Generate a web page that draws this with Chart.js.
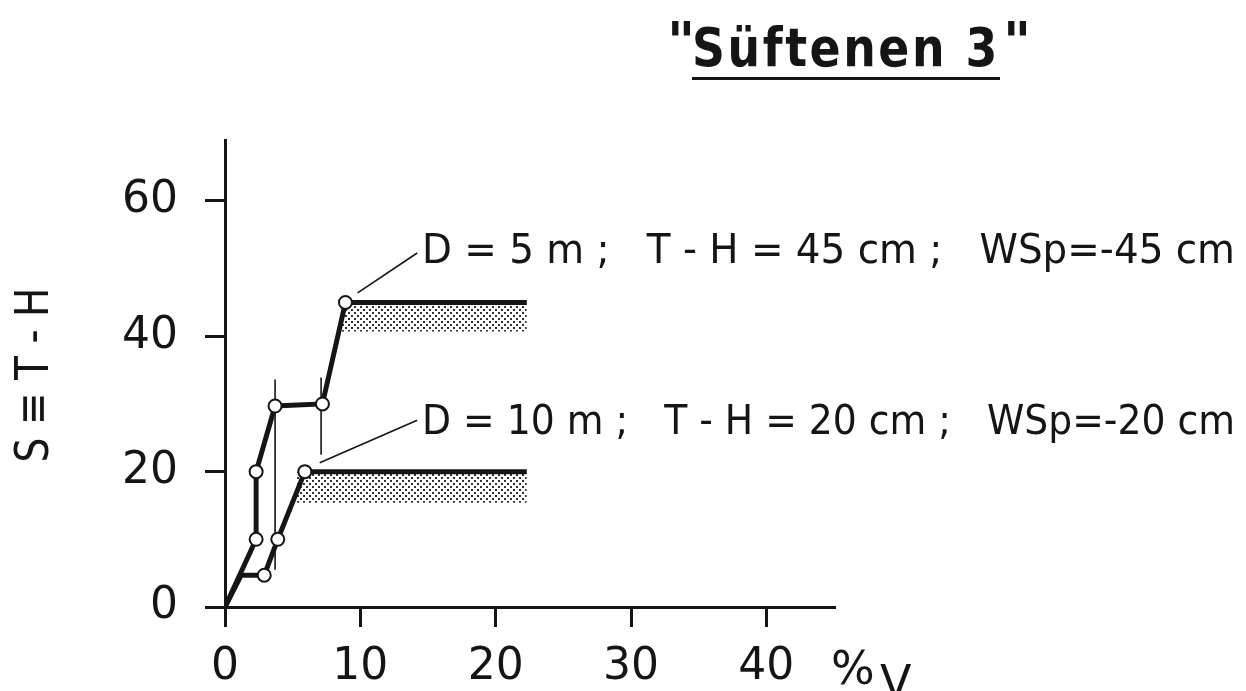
<!DOCTYPE html>
<html>
<head>
<meta charset="utf-8">
<title>Süftenen 3</title>
<script src="https://cdn.jsdelivr.net/npm/chart.js@4.4.0/dist/chart.umd.min.js"></script>
<style>
  body { margin: 0; background: #fff; }
  #wrap { width: 1246px; height: 691px; }
</style>
</head>
<body>
<div id="wrap"><canvas id="chart" width="1246" height="691"></canvas></div>
<script>
// axis ticks
const xTicks = [0, 10, 20, 30, 40];
const yTicks = [0, 20, 40, 60];

// D = 5 m curve
const s1X = [0, 2.3, 2.3, 3.7, 7.2, 8.9, 22.3];
const s1Y = [0, 10, 20, 29.7, 30, 45, 45];
const s1Marks = [0, 1, 1, 1, 1, 1, 0];

// D = 10 m curve
const s2X = [0, 1.2, 2.9, 3.9, 5.9, 22.3];
const s2Y = [0, 4.7, 4.7, 10, 20, 20];
const s2Marks = [0, 0, 1, 1, 1, 0];

// stippled bands under the plateaus
const band1X = [8.6, 22.3];
const band1Y = [40.7, 40.7];
const band1Top = 45;
const band2X = [5.3, 22.3];
const band2Y = [15.4, 15.4];
const band2Top = 20;

// thin vertical range lines
const bar1X = [3.7, 3.7];
const bar1Y = [5.5, 33.6];
const bar2X = [7.1, 7.1];
const bar2Y = [22.5, 33.9];

// leader lines to the labels
const lead1X = [9.8, 14.2];
const lead1Y = [46.4, 52.3];
const lead2X = [7.0, 14.2];
const lead2Y = [21.3, 27.6];

const INK = '#151515';
const FONT = '"DejaVu Sans", "Liberation Sans", sans-serif';

function pts(xs, ys) {
    return xs.map((x, i) => ({ x: x, y: ys[i] }));
}

function stipple() {
    const c = document.createElement('canvas');
    c.width = 6; c.height = 6;
    const g = c.getContext('2d');
    g.fillStyle = '#fff';
    g.fillRect(0, 0, 6, 6);
    g.fillStyle = '#333';
    g.fillRect(0, 0, 2, 2);
    g.fillRect(3, 3, 2, 2);
    return g.createPattern(c, 'repeat');
}

// squeeze or stretch a string so it covers the given width
function fitText(ctx, text, x, y, width, align) {
    const w = ctx.measureText(text).width;
    const k = width / w;
    ctx.save();
    ctx.translate(x, y);
    ctx.scale(k, 1);
    ctx.textAlign = align || 'left';
    ctx.fillText(text, 0, 0);
    ctx.restore();
}

const textPlugin = {
    id: 'texts',
    afterDraw(chart) {
        const ctx = chart.ctx;
        ctx.save();
        ctx.fillStyle = INK;
        ctx.textBaseline = 'alphabetic';

        // title
        ctx.font = '600 54px ' + FONT;
        ctx.letterSpacing = '3px';
        fitText(ctx, 'Süftenen 3', 846, 66, 308, 'center');
        ctx.letterSpacing = '0px';
        ctx.fillText('"', 667, 60);
        ctx.fillText('"', 1003, 60);
        ctx.fillRect(692, 77, 308, 3);

        // curve labels
        ctx.font = '40px ' + FONT;
        fitText(ctx, 'D = 5 m ;   T - H = 45 cm ;   WSp=-45 cm', 422, 263, 813);
        fitText(ctx, 'D = 10 m ;   T - H = 20 cm ;   WSp=-20 cm', 422, 434, 813);

        // x unit
        ctx.font = '46px ' + FONT;
        ctx.fillText('%', 831, 684);
        ctx.fillText('V', 880, 698);

        // y title
        ctx.translate(48, 375);
        ctx.rotate(-Math.PI / 2);
        ctx.font = '46px ' + FONT;
        fitText(ctx, 'S ≡ T - H', 0, 0, 175, 'center');
        ctx.restore();
    }
};

const thin = { showLine: true, borderColor: INK, borderWidth: 1.6, pointRadius: 0, fill: false };

new Chart(document.getElementById('chart'), {
    type: 'scatter',
    data: {
        datasets: [
            {
                data: pts(s1X, s1Y), showLine: true, borderColor: INK, borderWidth: 5,
                pointRadius: s1Marks.map(m => m ? 6.5 : 0),
                pointBackgroundColor: '#fff', pointBorderColor: INK, pointBorderWidth: 2
            },
            {
                data: pts(s2X, s2Y), showLine: true, borderColor: INK, borderWidth: 5,
                pointRadius: s2Marks.map(m => m ? 6.5 : 0),
                pointBackgroundColor: '#fff', pointBorderColor: INK, pointBorderWidth: 2
            },
            Object.assign({ data: pts(bar1X, bar1Y) }, thin),
            Object.assign({ data: pts(bar2X, bar2Y) }, thin),
            Object.assign({ data: pts(lead1X, lead1Y) }, thin),
            Object.assign({ data: pts(lead2X, lead2Y) }, thin),
            {
                data: pts(band1X, band1Y), showLine: true, borderWidth: 0, pointRadius: 0,
                fill: { value: band1Top }, backgroundColor: stipple()
            },
            {
                data: pts(band2X, band2Y), showLine: true, borderWidth: 0, pointRadius: 0,
                fill: { value: band2Top }, backgroundColor: stipple()
            }
        ]
    },
    options: {
        responsive: false,
        animation: false,
        events: [],
        layout: { padding: { left: 0, right: 412, top: 140, bottom: 0 } },
        plugins: { legend: { display: false }, tooltip: { enabled: false } },
        scales: {
            x: {
                type: 'linear', min: 0, max: 45,
                afterFit: s => { s.height = 84; },
                afterBuildTicks: s => { s.ticks = xTicks.map(v => ({ value: v })); },
                border: { display: true, color: INK, width: 3 },
                grid: { drawOnChartArea: false, drawTicks: true, tickLength: 20, color: INK, lineWidth: 3 },
                ticks: { color: INK, font: { family: FONT, size: 44 }, padding: 14, maxRotation: 0 }
            },
            y: {
                type: 'linear', min: 0, max: 69,
                afterFit: s => { s.width = 225; },
                afterBuildTicks: s => { s.ticks = yTicks.map(v => ({ value: v })); },
                border: { display: true, color: INK, width: 3 },
                grid: { drawOnChartArea: false, drawTicks: true, tickLength: 20, color: INK, lineWidth: 3 },
                ticks: { color: INK, font: { family: FONT, size: 44 }, padding: 27 }
            }
        }
    },
    plugins: [textPlugin]
});
</script>
</body>
</html>
